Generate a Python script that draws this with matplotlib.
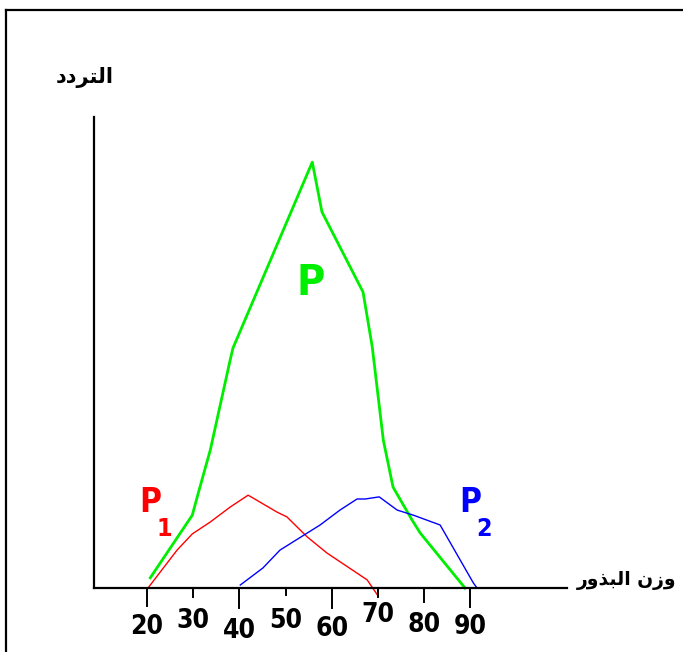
import matplotlib
matplotlib.use("Agg")
import matplotlib.pyplot as plt
from matplotlib.lines import Line2D
from matplotlib import font_manager

# ----- DATA (seed weight vs frequency) -----
p_x = [20.7, 29.8, 31.1, 33.7, 38.0, 38.6, 55.8, 57.9, 66.8, 68.8, 71.2, 73.3, 77.4, 79.2, 88.9]
p_y = [2.4, 17.1, 22.3, 32.4, 53.5, 56.3, 100.0, 88.3, 69.5, 56.6, 34.7, 23.7, 16.0, 12.9, 0.0]

p1_x = [20.2, 26.5, 29.8, 33.7, 38.0, 41.9, 48.2, 50.3, 54.7, 59.0, 67.7, 69.9]
p1_y = [0.0, 8.9, 12.7, 15.5, 19.0, 21.8, 17.8, 16.7, 12.0, 8.2, 1.9, -1.6]

p2_x = [40.2, 45.1, 48.8, 57.5, 61.8, 65.5, 67.3, 70.3, 74.2, 77.7, 83.5, 90.7, 91.5]
p2_y = [0.7, 4.7, 8.9, 14.8, 18.3, 20.9, 20.9, 21.4, 18.3, 17.1, 14.8, 1.2, 0.0]

tick_vals = [20, 30, 40, 50, 60, 70, 80, 90]
tick_len_px = [18, 9, 20, 7, 20, 9, 14, 19]
label_drop_px = [26, 20, 30, 20, 28, 14, 24, 26]

# Arabic in presentation forms, visual order (matplotlib does no shaping)
ylabel_txt = "\uFEA9\uFEA9\uFEAE\uFE98\uFEDF\uFE8D"                      # التردد
xlabel_txt = "\uFEAD\uFEED\uFEAC\uFE92\uFEDF\uFE8D \uFEE5\uFEAF\uFEED"   # وزن البذور

W, H = 683, 652

# look for a narrow / condensed bold face, otherwise plain DejaVu
narrow_file = None
for f in font_manager.fontManager.ttflist:
    name = (f.name + " " + f.fname).lower()
    if ("narrow" in name or "condensed" in name) and f.weight in (600, 700, "bold"):
        if "dejavu" in name or "liberation" in name or "noto" in name or "open" in name or "roboto" in name:
            narrow_file = f.fname
            break
if narrow_file:
    NARROW = font_manager.FontProperties(fname=narrow_file)
else:
    NARROW = font_manager.FontProperties(family="DejaVu Sans", weight="bold")


def nfont(size):
    fp = NARROW.copy()
    fp.set_size(size)
    return fp


fig = plt.figure(figsize=(W / 100, H / 100), dpi=100)


def fx(px):
    return px / W


def fy(py):
    return 1 - py / H


# axes box in pixels: left 94, right 567, top 117, bottom 588
ax = fig.add_axes([fx(94), fy(588), fx(567 - 94), (588 - 117) / H])
ax.set_xlim(8.5, 111.0)
ax.set_ylim(0, 110.6)

for s in ["top", "right"]:
    ax.spines[s].set_visible(False)
for s in ["left", "bottom"]:
    ax.spines[s].set_linewidth(1.6)
ax.set_xticks([])
ax.set_yticks([])
ax.patch.set_alpha(0)

ax.plot(p_x, p_y, color="#00ee00", lw=2.0, solid_joinstyle="round", clip_on=False)
ax.plot(p1_x, p1_y, color="#ff0000", lw=1.0, clip_on=False)
ax.plot(p2_x, p2_y, color="#0000ff", lw=1.0, clip_on=False)

# staggered ticks and labels
ax_h = 588 - 117
for v, tl, dp in zip(tick_vals, tick_len_px, label_drop_px):
    ax.plot([v, v], [0, -tl / ax_h], color="black", lw=1.4,
            transform=ax.get_xaxis_transform(), clip_on=False)
    ax.annotate(str(v), xy=(v, 0), xycoords=("data", "axes fraction"),
                xytext=(0, -dp * 0.72), textcoords="offset points",
                ha="center", va="top", fontproperties=nfont(19))

# curve labels
fig.text(fx(311), fy(283), "P", color="#00ee00", fontproperties=nfont(31),
         ha="center", va="center")
fig.text(fx(150), fy(503), "P", color="#ff0000", fontproperties=nfont(24),
         ha="center", va="center")
fig.text(fx(164), fy(529), "1", color="#ff0000", fontproperties=nfont(18),
         ha="center", va="center")
fig.text(fx(470), fy(503), "P", color="#0000ff", fontproperties=nfont(24),
         ha="center", va="center")
fig.text(fx(484), fy(529), "2", color="#0000ff", fontproperties=nfont(18),
         ha="center", va="center")

# axis titles
fig.text(fx(85), fy(78), ylabel_txt, fontsize=15, fontweight="bold",
         family="DejaVu Sans", ha="center", va="center")
fig.text(fx(627), fy(580), xlabel_txt, fontsize=13.5, fontweight="bold",
         family="DejaVu Sans", ha="center", va="center")

# outer frame (left and top edges)
fig.add_artist(Line2D([fx(6), fx(6)], [0, fy(10)], color="black", lw=1.6,
                      transform=fig.transFigure))
fig.add_artist(Line2D([fx(6), 1], [fy(10), fy(10)], color="black", lw=1.6,
                      transform=fig.transFigure))

fig.savefig("out.png", dpi=100)
